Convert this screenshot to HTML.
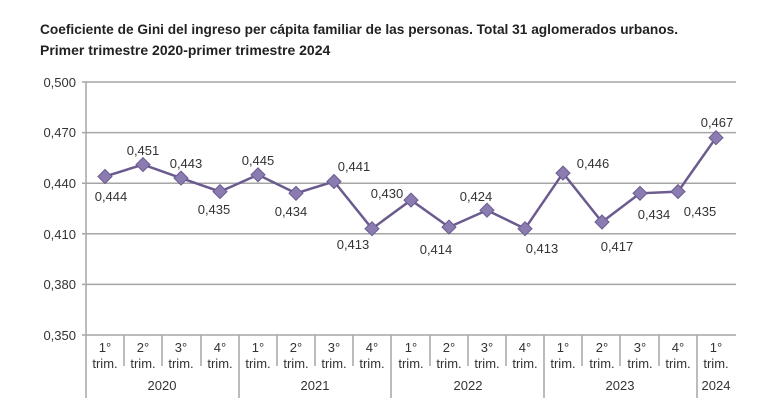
<!DOCTYPE html>
<html><head><meta charset="utf-8"><style>
body{margin:0;background:#fff;width:770px;height:420px;overflow:hidden}
svg{display:block;font-family:"Liberation Sans",sans-serif}
</style></head><body>
<svg width="770" height="420" viewBox="0 0 770 420">
<text x="40" y="34" font-size="14" font-weight="bold" fill="#222" textLength="638" lengthAdjust="spacingAndGlyphs">Coeficiente de Gini del ingreso per cápita familiar de las personas. Total 31 aglomerados urbanos.</text>
<text x="40" y="55" font-size="14" font-weight="bold" fill="#222">Primer trimestre 2020-primer trimestre 2024</text>
<g stroke="#a6a6a6" stroke-width="1.5">
<line x1="82" y1="82" x2="736" y2="82"/>
<line x1="82" y1="132.6" x2="736" y2="132.6"/>
<line x1="82" y1="183.2" x2="736" y2="183.2"/>
<line x1="82" y1="233.8" x2="736" y2="233.8"/>
<line x1="82" y1="284.4" x2="736" y2="284.4"/>
<line x1="82" y1="335" x2="736" y2="335"/>
<line x1="86" y1="82" x2="86" y2="398"/>
<line x1="124" y1="335" x2="124" y2="366"/><line x1="162" y1="335" x2="162" y2="366"/><line x1="201" y1="335" x2="201" y2="366"/>
<line x1="239" y1="335" x2="239" y2="398"/>
<line x1="277" y1="335" x2="277" y2="366"/><line x1="315" y1="335" x2="315" y2="366"/><line x1="353" y1="335" x2="353" y2="366"/>
<line x1="391" y1="335" x2="391" y2="398"/>
<line x1="430" y1="335" x2="430" y2="366"/><line x1="468" y1="335" x2="468" y2="366"/><line x1="506" y1="335" x2="506" y2="366"/>
<line x1="544" y1="335" x2="544" y2="398"/>
<line x1="582" y1="335" x2="582" y2="366"/><line x1="620" y1="335" x2="620" y2="366"/><line x1="659" y1="335" x2="659" y2="366"/>
<line x1="697" y1="335" x2="697" y2="398"/>
</g>
<g font-size="13" fill="#333" text-anchor="end">
<text x="76" y="87">0,500</text><text x="76" y="137">0,470</text><text x="76" y="188">0,440</text>
<text x="76" y="239">0,410</text><text x="76" y="289">0,380</text><text x="76" y="340">0,350</text>
</g>
<g font-size="13" fill="#333" text-anchor="middle">
<g>
<text x="105" y="352">1°</text><text x="143" y="352">2°</text><text x="181" y="352">3°</text><text x="220" y="352">4°</text>
<text x="258" y="352">1°</text><text x="296" y="352">2°</text><text x="334" y="352">3°</text><text x="372" y="352">4°</text>
<text x="411" y="352">1°</text><text x="449" y="352">2°</text><text x="487" y="352">3°</text><text x="525" y="352">4°</text>
<text x="563" y="352">1°</text><text x="602" y="352">2°</text><text x="640" y="352">3°</text><text x="678" y="352">4°</text>
<text x="716" y="352">1°</text>
</g>
<g>
<text x="105" y="368">trim.</text><text x="143" y="368">trim.</text><text x="181" y="368">trim.</text><text x="220" y="368">trim.</text>
<text x="258" y="368">trim.</text><text x="296" y="368">trim.</text><text x="334" y="368">trim.</text><text x="372" y="368">trim.</text>
<text x="411" y="368">trim.</text><text x="449" y="368">trim.</text><text x="487" y="368">trim.</text><text x="525" y="368">trim.</text>
<text x="563" y="368">trim.</text><text x="602" y="368">trim.</text><text x="640" y="368">trim.</text><text x="678" y="368">trim.</text>
<text x="716" y="368">trim.</text>
</g>
<text x="162" y="390">2020</text><text x="315" y="390">2021</text><text x="468" y="390">2022</text><text x="620" y="390">2023</text><text x="716" y="390">2024</text>
</g>
<polyline fill="none" stroke="#6b5b8e" stroke-width="2.5" points="105,176.5 143,164.6 181,178.1 220,191.6 258,174.8 296,193.3 334,181.5 372,228.7 411,200.1 449,227.1 487,210.2 525,228.7 563,173.1 602,222 640,193.3 678,191.6 716,137.7"/>
<g fill="#8a7bb0" stroke="#6b5b8e" stroke-width="1">
<path d="M105 169.5l7 7-7 7-7-7z"/><path d="M143 157.6l7 7-7 7-7-7z"/><path d="M181 171.1l7 7-7 7-7-7z"/><path d="M220 184.6l7 7-7 7-7-7z"/>
<path d="M258 167.8l7 7-7 7-7-7z"/><path d="M296 186.3l7 7-7 7-7-7z"/><path d="M334 174.5l7 7-7 7-7-7z"/><path d="M372 221.7l7 7-7 7-7-7z"/>
<path d="M411 193.1l7 7-7 7-7-7z"/><path d="M449 220.1l7 7-7 7-7-7z"/><path d="M487 203.2l7 7-7 7-7-7z"/><path d="M525 221.7l7 7-7 7-7-7z"/>
<path d="M563 166.1l7 7-7 7-7-7z"/><path d="M602 215l7 7-7 7-7-7z"/><path d="M640 186.3l7 7-7 7-7-7z"/><path d="M678 184.6l7 7-7 7-7-7z"/>
<path d="M716 130.7l7 7-7 7-7-7z"/>
</g>
<g font-size="13" fill="#333" text-anchor="middle">
<text x="111" y="201">0,444</text><text x="143" y="155">0,451</text><text x="186" y="168">0,443</text><text x="214" y="214">0,435</text>
<text x="258" y="165">0,445</text><text x="291" y="216">0,434</text><text x="354" y="171">0,441</text><text x="353" y="249">0,413</text>
<text x="387" y="198">0,430</text><text x="436" y="254">0,414</text><text x="476" y="201">0,424</text><text x="542" y="253">0,413</text>
<text x="593" y="168">0,446</text><text x="617" y="251">0,417</text><text x="654" y="219">0,434</text><text x="700" y="216">0,435</text>
<text x="717" y="127">0,467</text>
</g>
</svg>
</body></html>
